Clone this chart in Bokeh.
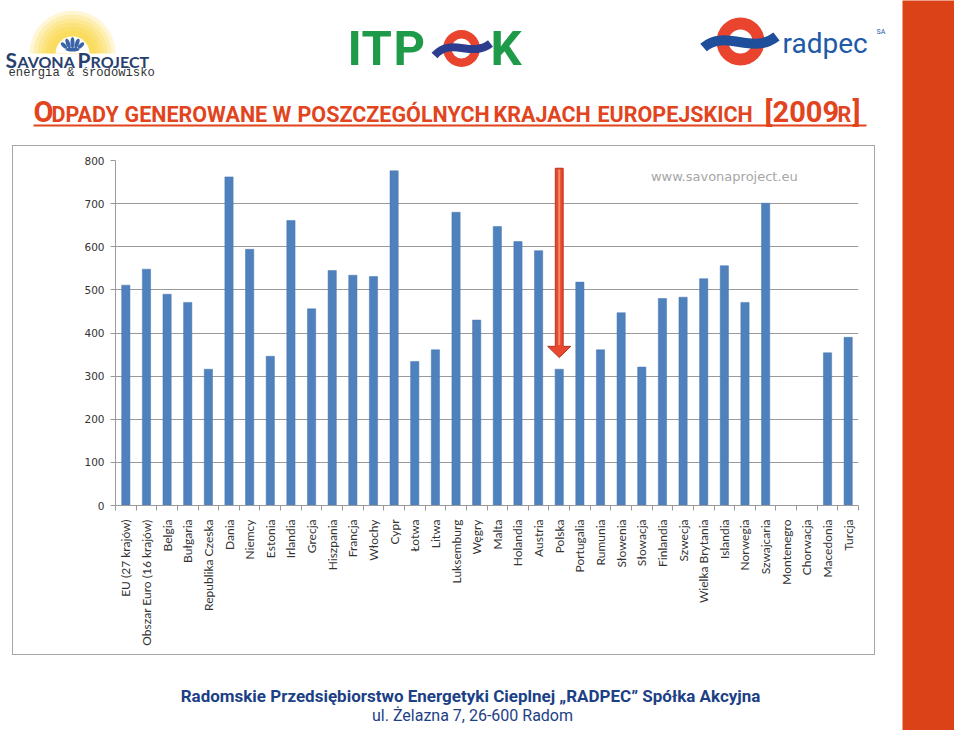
from math import pi
from bokeh.plotting import figure
from bokeh.layouts import row, column
from bokeh.models import (ColumnDataSource, FactorRange, Range1d, LinearAxis, CategoricalAxis,
                          FixedTicker, Label, Spacer)
from bokeh.core.properties import value
from bokeh.embed import file_html
from bokeh.resources import INLINE

# ---------------- data ----------------
CATEGORIES = ["EU (27 krajów)", "Obszar Euro (16 krajów)", "Belgia", "Bułgaria", "Republika Czeska",
              "Dania", "Niemcy", "Estonia", "Irlandia", "Grecja", "Hiszpania", "Francja", "Włochy",
              "Cypr", "Łotwa", "Litwa", "Luksemburg", "Węgry", "Malta", "Holandia", "Austria",
              "Polska", "Portugalia", "Rumunia", "Słowenia", "Słowacja", "Finlandia", "Szwecja",
              "Wielka Brytania", "Islandia", "Norwegia", "Szwajcaria", "Montenegro", "Chorwacja",
              "Macedonia", "Turcja"]
VALUES = [511, 548, 490, 471, 316, 762, 594, 346, 661, 456, 545, 534, 531, 776, 334, 361, 680, 430,
          647, 612, 591, 316, 518, 361, 447, 321, 480, 483, 526, 556, 471, 701, None, None, 354, 390]
Y_TICKS = [0, 100, 200, 300, 400, 500, 600, 700, 800]
UNIT_LABEL = "[kg/os]"
WATERMARK = "www.savonaproject.eu"
HIGHLIGHT = "Polska"
TITLE_PARTS = ["O", "DPADY", "GENEROWANE", "W", "POSZCZEGÓLNYCH", "KRAJACH", "EUROPEJSKICH",
               "[2009", "R", "]"]
TITLE_BIG = [True, False, False, False, False, False, False, True, False, True]
FOOTER_1 = "Radomskie Przedsiębiorstwo Energetyki Cieplnej \u201eRADPEC\u201d Spółka Akcyjna"
FOOTER_2 = "ul. Żelazna 7, 26-600 Radom"

BAR_BLUE = "#4F81BD"
ORANGE = "#E2441D"
GRAY = "#9A9A9A"
BOX = "#A6A6A6"


def bare(fig):
    fig.min_border = 0
    fig.min_border_left = fig.min_border_right = fig.min_border_top = fig.min_border_bottom = 0
    fig.outline_line_color = None
    fig.background_fill_color = "white"
    fig.border_fill_color = "white"
    fig.grid.visible = False
    return fig

# ---------------- header (logos + title) ----------------
hdr = bare(figure(width=902, height=145, x_range=Range1d(0, 902), y_range=Range1d(-145, 0),
                  x_axis_location=None, y_axis_location=None, output_backend="svg",
                  toolbar_location=None))

# Savona Project logo: sun glow
for r in [43, 39, 35, 31, 27, 23]:
    hdr.wedge(x=[72], y=[-53], radius=r, start_angle=0, end_angle=pi,
              fill_color="#FBD02A", fill_alpha=0.2, line_color=None)
hdr.wedge(x=[72], y=[-53], radius=17, start_angle=0, end_angle=pi, fill_color="white", line_color=None)
LOTUS_BLUE = "#3A64A6"
hdr.ellipse(x=[72, 67.5, 76.5, 63.5, 80.5], y=[-42, -43, -43, -45, -45], width=[4, 4, 4, 4, 4],
            height=[11, 10, 10, 8, 8], angle=[0, 0.35, -0.35, 0.75, -0.75],
            fill_color=LOTUS_BLUE, line_color=None)
hdr.ellipse(x=[72], y=[-49], width=[14], height=[4], fill_color=LOTUS_BLUE, line_color=None)
SAV = "#27406E"
hdr.text(x=[5, 77], y=[-59, -59], text=["S", "P"], text_font=value("Lato"),
         text_font_style="bold", text_font_size="21px", text_color=SAV, text_baseline="middle")
hdr.text(x=[17, 90], y=[-60.5, -60.5], text=["AVONA", "ROJECT"], text_font=value("Lato"),
         text_font_style="bold", text_font_size="16px", text_color=SAV, text_baseline="middle")
hdr.text(x=[8], y=[-72], text=["energia & środowisko"], text_font=value("Liberation Mono"),
         text_font_size="12.2px", text_color="#333333", text_baseline="middle")

# ITPOK logo
GREEN = "#1E9A48"
hdr.text(x=[347, 361, 393, 490], y=[-47.5] * 4, text=["I", "T", "P", "K"],
         text_font=value("Roboto"), text_font_style="bold", text_font_size="49px", text_color=GREEN,
         text_baseline="middle")
hdr.annular_wedge(x=[461], y=[-48], inner_radius=10, outer_radius=18.5, start_angle=0,
                  end_angle=2 * pi, fill_color="#E8442E", line_color=None)
hdr.bezier(x0=[434], y0=[-55], cx0=[451], cy0=[-36], cx1=[471], cy1=[-58], x1=[490], y1=[-43],
           line_color="#2C3D8F", line_width=8)

# radpec logo
hdr.annular_wedge(x=[740], y=[-41], inner_radius=12, outer_radius=24, start_angle=0, end_angle=2 * pi,
                  fill_color="#E8442E", line_color=None)
hdr.bezier(x0=[703], y0=[-47], cx0=[725], cy0=[-28], cx1=[752], cy1=[-55], x1=[776], y1=[-36],
           line_color="#1F4E9A", line_width=10)
hdr.text(x=[782], y=[-42.5], text=["radpec"], text_font=value("Roboto"), text_font_size="28px",
         text_color="#2059A8", text_baseline="middle")
hdr.text(x=[876], y=[-31], text=["SA"], text_font=value("Roboto"), text_font_size="7px",
         text_color="#2059A8", text_baseline="middle")

# title (small-caps imitation)
TITLE_X = [33, 51, 124, 272, 297, 493, 597, 764, 837, 852]
bi = [i for i, b in enumerate(TITLE_BIG) if b]
si = [i for i, b in enumerate(TITLE_BIG) if not b]
hdr.text(x=[TITLE_X[i] for i in bi], y=[-111.5] * len(bi), text=[TITLE_PARTS[i] for i in bi],
         text_font=value("Roboto"), text_font_style="bold", text_font_size="29px", text_color=ORANGE,
         text_baseline="middle")
hdr.text(x=[TITLE_X[i] for i in si], y=[-113.5] * len(si), text=[TITLE_PARTS[i] for i in si],
         text_font=value("Roboto"), text_font_style="bold", text_font_size="21.5px", text_color=ORANGE,
         text_baseline="middle")
hdr.segment(x0=[33], y0=[-125], x1=[866], y1=[-125], line_color=ORANGE, line_width=2)

# ---------------- chart ----------------
present = [(c, v) for c, v in zip(CATEGORIES, VALUES) if v is not None]
src = ColumnDataSource(dict(cat=[c for c, v in present], val=[v for c, v in present]))

p = figure(x_range=FactorRange(factors=CATEGORIES), y_range=Range1d(0, 800), width=861, height=508,
           x_axis_location=None, output_backend="svg", toolbar_location=None,
           min_border_left=102, min_border_right=16, min_border_top=14, min_border_bottom=149)
p.outline_line_color = None
p.background_fill_color = "white"
p.border_fill_color = "white"
for g in p.xgrid:
    g.visible = False
p.ygrid.grid_line_color = GRAY
p.ygrid.grid_line_width = 1

p.yaxis.ticker = FixedTicker(ticks=Y_TICKS)
p.yaxis.axis_line_color = GRAY
p.yaxis.major_tick_line_color = GRAY
p.yaxis.major_tick_out = 5
p.yaxis.major_tick_in = 0
p.yaxis.minor_tick_line_color = None
p.yaxis.major_label_text_font = "DejaVu Sans"
p.yaxis.major_label_text_font_size = "10.5px"
p.yaxis.major_label_text_color = "#333333"
p.yaxis.major_label_standoff = 6

n = len(CATEGORIES)
tick_axis = LinearAxis(ticker=FixedTicker(ticks=list(range(n + 1))), major_tick_out=5, major_tick_in=0,
                       minor_tick_line_color=None, axis_line_color=GRAY, major_tick_line_color=GRAY,
                       major_label_text_font_size="0px", major_label_standoff=0,
                       major_label_overrides={i: "" for i in range(n + 1)})
p.add_layout(tick_axis, "below")
cat_axis = CategoricalAxis(axis_line_color=None, major_tick_line_color=None,
                           major_label_orientation=pi / 2, major_label_text_font="Lato",
                           major_label_text_font_size="12px", major_label_text_color="#333333",
                           major_label_standoff=3)
p.add_layout(cat_axis, "below")

p.vbar(x="cat", top="val", width=0.4, source=src, fill_color=BAR_BLUE, line_color="#4677B2",
       line_width=0.5)

# red arrow pointing at the highlighted country
c = CATEGORIES.index(HIGHLIGHT) + 0.5
sw, hw = 0.19, 0.56
ARROW_TOP, HEAD_BASE, HEAD_TIP = 782, 369, 343
p.patch(x=[c - sw, c + sw, c + sw, c + hw, c, c - hw, c - sw],
        y=[ARROW_TOP, ARROW_TOP, HEAD_BASE, HEAD_BASE, HEAD_TIP, HEAD_BASE, HEAD_BASE],
        fill_color="#E8492E", line_color="#B8321F", line_width=1)
p.segment(x0=[c], y0=[ARROW_TOP - 3], x1=[c], y1=[HEAD_BASE + 3], line_color="#F58A6C", line_width=2)

p.add_layout(Label(x=29.5, y=762, text=WATERMARK, text_align="center", text_baseline="middle",
                   text_font="DejaVu Sans", text_font_size="13px", text_color="#A6A6A6"))
p.add_layout(Label(x=-1.02, y=747, text=UNIT_LABEL, text_align="right", text_baseline="middle",
                   text_font="DejaVu Sans", text_font_style="bold", text_font_size="10px",
                   text_color="#333333"))

# ---------------- footer ----------------
ftr = bare(figure(width=902, height=75, x_range=Range1d(0, 902), y_range=Range1d(-730, -655),
                  x_axis_location=None, y_axis_location=None, output_backend="svg",
                  toolbar_location=None))
ftr.text(x=[470], y=[-695.5], text=[FOOTER_1], text_font=value("Roboto"), text_font_style="bold",
         text_font_size="17px", text_color="#1C3F86", text_align="center", text_baseline="middle")
ftr.text(x=[472], y=[-715], text=[FOOTER_2], text_font=value("Roboto"), text_font_size="16px",
         text_color="#1C3F86", text_align="center", text_baseline="middle")

# ---------------- right strip ----------------
strip = bare(figure(width=52, height=730, x_range=Range1d(0, 1), y_range=Range1d(0, 1),
                    x_axis_location=None, y_axis_location=None, output_backend="svg",
                    toolbar_location=None))
strip.background_fill_color = "#DC4218"
strip.border_fill_color = "#DC4218"


def hline():
    return Spacer(width=863, height=1, styles={"background-color": BOX})


def vline():
    return Spacer(width=1, height=508, styles={"background-color": BOX})


middle = column(
    row(Spacer(width=12, height=1), hline()),
    row(Spacer(width=12, height=508), vline(), p, vline()),
    row(Spacer(width=12, height=1), hline()),
)
root = row(column(hdr, middle, ftr), strip)

open("out.html", "w").write(file_html(root, INLINE))
